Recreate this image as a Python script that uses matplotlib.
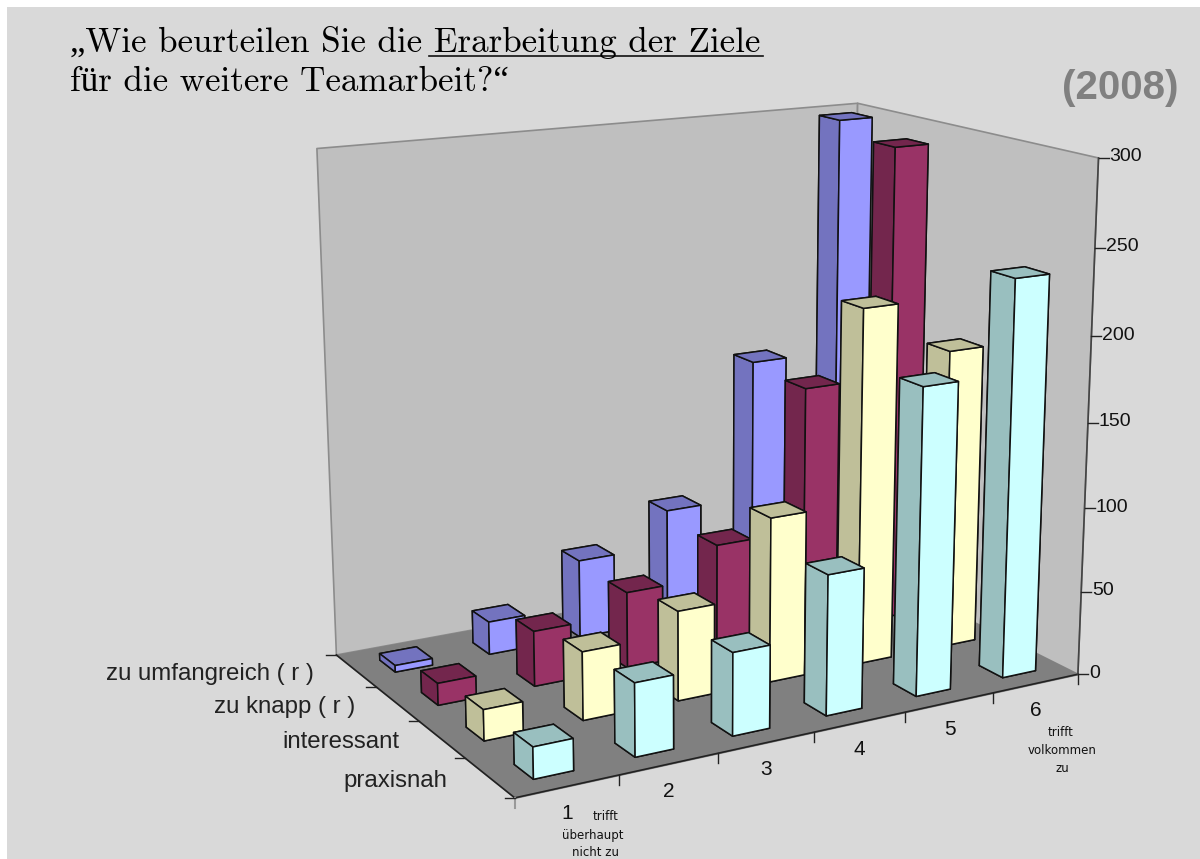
import numpy as np
import matplotlib
matplotlib.use("Agg")
import matplotlib.pyplot as plt
from matplotlib.lines import Line2D
from matplotlib.patches import Rectangle
from mpl_toolkits.mplot3d import proj3d
from mpl_toolkits.mplot3d.art3d import Poly3DCollection

# data, rows go from the back wall to the front
series = ["zu umfangreich ( r )", "zu knapp ( r )", "interessant", "praxisnah"]
categories = ["1", "2", "3", "4", "5", "6"]
umfangreich = [4, 20, 48, 70, 155, 298]
knapp = [13, 33, 46, 65, 152, 290]
interessant = [18, 40, 53, 98, 212, 180]
praxisnah = [18, 42, 48, 82, 180, 234]
ztick_vals = [0, 50, 100, 150, 200, 250, 300]

front_cols = ["#9999FF", "#993366", "#FFFFCC", "#CCFFFF"]
dark_cols = ["#7373BF", "#73264D", "#BFBF99", "#99BFBF"]

W, H = 1200, 859
fig = plt.figure(figsize=(W / 100, H / 100), dpi=100, facecolor="white")
fig.add_artist(Rectangle((7 / W, 0), 1, (H - 7) / H, transform=fig.transFigure,
                         facecolor="#D9D9D9", edgecolor="none", zorder=-5))

ax = fig.add_subplot(projection="3d", computed_zorder=False)
ax.patch.set_alpha(0)
ax.set_autoscale_on(False)
ax.set_axis_off()

# camera fitted against the corners of the reference
ax.view_init(elev=14.9774, azim=-119.7083, roll=-0.0151)
ax.set_box_aspect((1, 0.6719, 0.8352))
ax.set_proj_type("persp", focal_length=0.5332)
ax.set_xlim(0, 6, view_margin=0)
ax.set_ylim(0, 4, view_margin=0)
ax.set_zlim(0, 300, view_margin=0)


def place_axes(s, tx, ty):
    ax.set_position([0, 0, 600 / W, 600 / H])
    ax.apply_aspect()
    p = ax.transData.transform([[0, 0], [1, 1]])
    k = s / (p[1, 0] - p[0, 0])
    ax.set_position([(tx - p[0, 0] * k) / W, (ty - p[0, 1] * k) / H, 600 * k / W, 600 * k / H])


place_axes(4871.78, 703.477, 443.427)


def to_px(x, y, z):
    X, Y, _ = proj3d.proj_transform(x, y, z, ax.get_proj())
    return ax.transData.transform([[float(X), float(Y)]])[0]


def seg(x0, y0, x1, y1, color="black", lw=1.0):
    fig.add_artist(Line2D([x0 / W, x1 / W], [y0 / H, y1 / H], color=color, lw=lw,
                          transform=fig.transFigure))


# walls
walls = [[(0, 4, 0), (6, 4, 0), (6, 4, 300), (0, 4, 300)],
         [(6, 0, 0), (6, 4, 0), (6, 4, 300), (6, 0, 300)]]
ax.add_collection3d(Poly3DCollection(walls, facecolors="#BFBFBF", edgecolors="#8C8C8C",
                                     linewidths=1.2, zorder=1))
ax.add_collection3d(Poly3DCollection([[(0, 0, 0), (6, 0, 0), (6, 4, 0), (0, 4, 0)]],
                                     facecolors="#808080", edgecolors="#808080",
                                     linewidths=1, zorder=2))

# bars, back to front and right to left so that near ones cover far ones
rows = [umfangreich, knapp, interessant, praxisnah]
gap_x, gap_y = 0.315, 0.28
size_x, size_y = 0.39, 0.38
zo = 3
for r, vals in enumerate(rows):
    y0 = 3 - r + gap_y
    for c in range(len(categories) - 1, -1, -1):
        # faces: -z, +z, -y, +y, -x, +x
        cols = [dark_cols[r], dark_cols[r], front_cols[r], front_cols[r], dark_cols[r], dark_cols[r]]
        ax.bar3d(c + gap_x, y0, 0, size_x, size_y, vals[c], color=cols, edgecolor="#111111",
                 linewidth=1.1, shade=False, zorder=zo)
        zo += 1

# axis lines, ticks and tick labels
sans = "Liberation Sans"
p0 = to_px(0, 0, 0)
p1 = to_px(6, 0, 0)
p2 = to_px(0, 4, 0)
p3 = to_px(6, 0, 300)
seg(p0[0], p0[1], p1[0], p1[1], "#222222", 1.2)
seg(p0[0], p0[1], p2[0], p2[1], "#222222", 1.2)
seg(p1[0], p1[1], p3[0], p3[1], "#444444", 1.2)
seg(p0[0], p0[1], p0[0], p0[1] - 10, "#999999", 1.5)

for i in range(7):
    p = to_px(i, 0, 0)
    if i > 0:
        seg(p[0], p[1], p[0], p[1] - 10, "#222222", 1.0)
for i in range(5):
    p = to_px(0, i, 0)
    seg(p[0], p[1], p[0] - 10, p[1], "#222222", 1.0)
for v in ztick_vals:
    p = to_px(6, 0, v)
    seg(p[0], p[1], p[0] + 10, p[1], "#222222", 1.0)
    fig.text((p[0] + 11) / W, (p[1] + 1) / H, str(v), fontsize=14, family=sans, color="#111111",
             ha="left", va="center")

for i, name in enumerate(categories):
    p = to_px(i + 0.5, 0, 0)
    fig.text(p[0] / W, (p[1] - 27) / H, name, fontsize=15, family=sans, color="#111111",
             ha="center", va="center")

for i, name in enumerate(series):
    p = to_px(0, 3.5 - i, 0)
    fig.text((p[0] - 42) / W, (p[1] - 3) / H, name, fontsize=17.3, family=sans, color="#222222",
             ha="right", va="center")

small = dict(fontsize=8.5, family="DejaVu Sans", color="#111111", ha="center", va="center")
for label, px, py in [("trifft", 606, 816), ("überhaupt", 593, 835), ("nicht zu", 595, 852),
                      ("trifft", 1061, 732), ("volkommen", 1062, 750), ("zu", 1062, 768)]:
    fig.text(px / W, (H - py) / H, label, **small)

# header
fig.text(70 / W, (H - 52) / H, "„Wie beurteilen Sie die Erarbeitung der Ziele", fontsize=25.2,
         family=["cmr10", "Liberation Serif"], color="black", ha="left", va="baseline")
fig.text(70 / W, (H - 91) / H, "für die weitere Teamarbeit?“", fontsize=25.2,
         family=["cmr10", "Liberation Serif"], color="black", ha="left", va="baseline")
seg(429, H - 56, 763, H - 56, "#111111", 1.2)
fig.text(1178 / W, (H - 88) / H, "(2008)", fontsize=29, family=sans, fontweight="bold",
         color="#808080", ha="right", va="center")

fig.savefig("out.png", dpi=100)
